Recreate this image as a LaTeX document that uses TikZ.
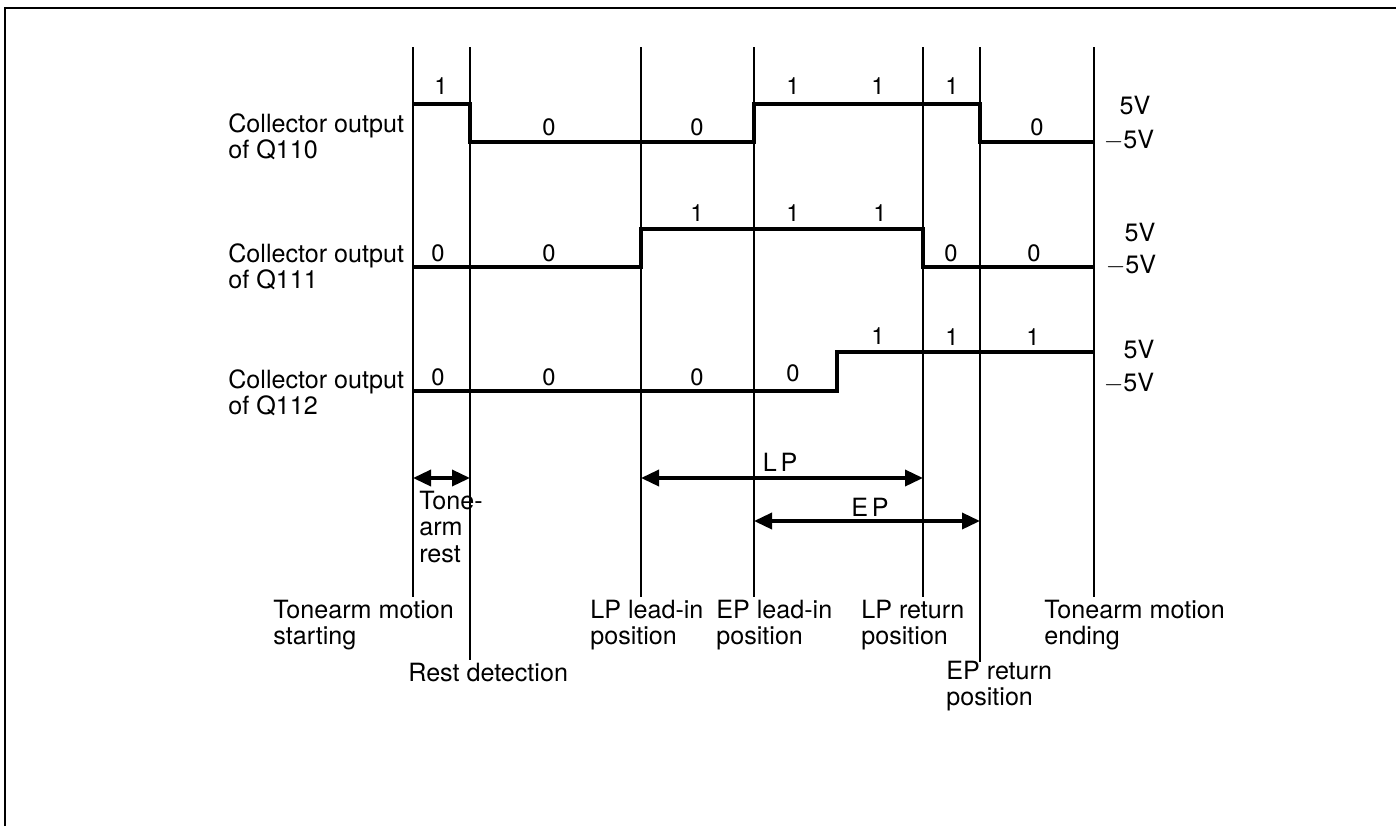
\documentclass[tikz,border=0pt]{standalone}
\usepackage{fontspec}
\setmainfont{TeX Gyre Heros}
\usetikzlibrary{arrows.meta}

\begin{document}
\begin{tikzpicture}[
    x=0.02cm, y=-0.02cm,
    every node/.style={font=\fontsize{14.3}{15}\selectfont, inner sep=0pt},
    guide/.style={line width=0.6pt},
    signal/.style={line width=1.8pt, line join=miter},
    span/.style={line width=2pt, {Triangle[length=3.6mm,width=3.2mm]}-{Triangle[length=3.6mm,width=3.2mm]}},
    bit/.style={font=\fontsize{13.5}{14}\selectfont},
    caption/.style={align=left, anchor=west}
  ]

\useasboundingbox (0,0) rectangle (1396,826);
\draw[line width=1.2pt] (5,826) -- (5,8) -- (1396,8);

% time marks
\coordinate (start-t) at (413,47);  \coordinate (start-b) at (413,597);
\coordinate (rest-t)  at (470,47);  \coordinate (rest-b)  at (470,660);
\coordinate (lpin-t)  at (641,47);  \coordinate (lpin-b)  at (641,597);
\coordinate (epin-t)  at (754,47);  \coordinate (epin-b)  at (754,597);
\coordinate (lpret-t) at (923,47);  \coordinate (lpret-b) at (923,597);
\coordinate (epret-t) at (980,47);  \coordinate (epret-b) at (980,662);
\coordinate (end-t)   at (1094,47); \coordinate (end-b)   at (1094,597);

\draw[guide] (start-t) -- (start-b);
\draw[guide] (rest-t) -- (rest-b);
\draw[guide] (lpin-t) -- (lpin-b);
\draw[guide] (epin-t) -- (epin-b);
\draw[guide] (lpret-t) -- (lpret-b);
\draw[guide] (epret-t) -- (epret-b);
\draw[guide] (end-t) -- (end-b);

% waveforms
\draw[signal] (413,104) -- (470,104) -- (470,142) -- (754,142) -- (754,104)
    -- (980,104) -- (980,142) -- (1094,142);
\draw[signal] (413,267) -- (641,267) -- (641,229) -- (923,229) -- (923,267) -- (1094,267);
\draw[signal] (413,391) -- (837,391) -- (837,352) -- (1094,352);

% signal names
\node[caption] (q110) at (228,137) {Collector output\\of Q110};
\node[caption] (q111) at (228,267) {Collector output\\of Q111};
\node[caption] (q112) at (228,393) {Collector output\\of Q112};

% logic levels
\foreach \x/\y/\b [count=\i] in {441/86/1, 549/127/0, 697/127/0, 793/86/1, 878/86/1, 952/86/1, 1037/127/0}
    \node[bit] (a\i) at (\x,\y) {\b};
\foreach \x/\y/\b [count=\i] in {438/253/0, 549/253/0, 697/213/1, 793/213/1, 880/213/1, 951/253/0, 1034/253/0}
    \node[bit] (b\i) at (\x,\y) {\b};
\foreach \x/\y/\b [count=\i] in {438/377/0, 549/377/0, 697/377/0, 793/373/0, 878/336/1, 952/337/1, 1033/337/1}
    \node[bit] (c\i) at (\x,\y) {\b};

% voltages
\node (hi1) at (1135,106) {5V};  \node (lo1) at (1129,140) {$-$5V};
\node (hi2) at (1140,233) {5V};  \node (lo2) at (1131,265) {$-$5V};
\node (hi3) at (1139,350) {5V};  \node (lo3) at (1129,383) {$-$5V};

% intervals
\draw[span] (start-t |- 0,478) coordinate (resta) -- (rest-t |- 0,478) coordinate (restb);
\draw[span] (lpin-t |- 0,478) coordinate (lpa) -- (lpret-t |- 0,478) coordinate (lpb);
\draw[span] (epin-t |- 0,521) coordinate (epa) -- (epret-t |- 0,521) coordinate (epb);
\node (lp) at (780,462) {\addfontfeature{LetterSpace=15}LP};
\node (ep) at (870,507) {\addfontfeature{LetterSpace=15}EP};
\node[caption] (tonearm) at (419,527) {Tone-\\arm\\rest};

% positions
\node[caption] (mstart) at (273,625) {Tonearm motion\\starting};
\node[caption] (rdet)   at (408,673) {Rest detection};
\node[caption] (lplead) at (590,625) {LP lead-in\\position};
\node[caption] (eplead) at (716,625) {EP lead-in\\position};
\node[caption] (lpreturn) at (861,625) {LP return\\position};
\node[caption] (epreturn) at (946,686) {EP return\\position};
\node[caption] (mend)   at (1044,625) {Tonearm motion\\ending};

\end{tikzpicture}
\end{document}
